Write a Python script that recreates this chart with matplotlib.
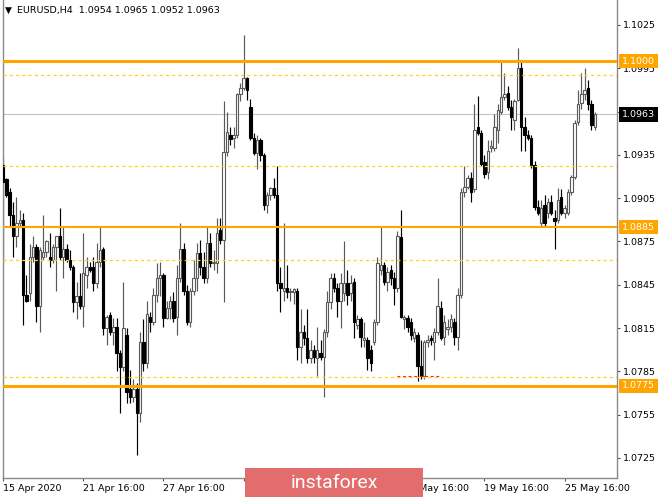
import numpy as np
import matplotlib
matplotlib.use("Agg")
import matplotlib.pyplot as plt
import matplotlib.transforms as mtransforms
from matplotlib.patches import Rectangle

# EURUSD H4 candles (15 Apr - 26 May 2020)
opens = [
    1.0928, 1.0918, 1.0909, 1.0893, 1.0879, 1.0888, 1.0890, 1.0838, 1.0839, 1.0864,
    1.0871, 1.0830, 1.0864, 1.0868, 1.0864, 1.0862, 1.0871, 1.0879, 1.0864, 1.0870,
    1.0862, 1.0857, 1.0833, 1.0837, 1.0830, 1.0852, 1.0857, 1.0857, 1.0846, 1.0861,
    1.0870, 1.0815, 1.0824, 1.0812, 1.0816, 1.0798, 1.0788, 1.0810, 1.0773, 1.0767,
    1.0773, 1.0756, 1.0805, 1.0791, 1.0823, 1.0819, 1.0838, 1.0850, 1.0852, 1.0822,
    1.0829, 1.0834, 1.0823, 1.0850, 1.0870, 1.0841, 1.0819, 1.0841, 1.0850, 1.0867,
    1.0857, 1.0850, 1.0874, 1.0860, 1.0860, 1.0883, 1.0876, 1.0937, 1.0949, 1.0947,
    1.0949, 1.0977, 1.0981, 1.0988, 1.0968, 1.0947, 1.0936, 1.0945, 1.0935, 1.0900,
    1.0907, 1.0912, 1.0907, 1.0846, 1.0841, 1.0843, 1.0840, 1.0840, 1.0841, 1.0802,
    1.0812, 1.0808, 1.0794, 1.0800, 1.0794, 1.0798, 1.0795, 1.0812, 1.0833, 1.0850,
    1.0843, 1.0834, 1.0839, 1.0846, 1.0839, 1.0847, 1.0817, 1.0821, 1.0807, 1.0807,
    1.0800, 1.0805, 1.0819, 1.0855, 1.0859, 1.0847, 1.0855, 1.0850, 1.0843, 1.0878,
    1.0821, 1.0822, 1.0819, 1.0808, 1.0810, 1.0789, 1.0782, 1.0805, 1.0808, 1.0805,
    1.0812, 1.0829, 1.0809, 1.0814, 1.0816, 1.0819, 1.0809, 1.0838, 1.0909, 1.0913,
    1.0919, 1.0911, 1.0954, 1.0950, 1.0930, 1.0923, 1.0940, 1.0940, 1.0952, 1.0965,
    1.0975, 1.0978, 1.0968, 1.0959, 1.0973, 1.0995, 1.0954, 1.0949, 1.0947, 1.0928,
    1.0899, 1.0888, 1.0900, 1.0895, 1.0902, 1.0891, 1.0890, 1.0906, 1.0895, 1.0895,
    1.0909, 1.0920, 1.0958, 1.0971, 1.0977, 1.0981, 1.0970, 1.0954,
]
highs = [
    1.0933, 1.0919, 1.0912, 1.0902, 1.0906, 1.0897, 1.0895, 1.0852, 1.0873, 1.0879,
    1.0873, 1.0871, 1.0893, 1.0876, 1.0881, 1.0873, 1.0879, 1.0898, 1.0885, 1.0873,
    1.0869, 1.0859, 1.0847, 1.0853, 1.0881, 1.0864, 1.0861, 1.0864, 1.0874, 1.0885,
    1.0871, 1.0824, 1.0826, 1.0822, 1.0822, 1.0800, 1.0847, 1.0815, 1.0786, 1.0780,
    1.0777, 1.0812, 1.0821, 1.0834, 1.0826, 1.0843, 1.0860, 1.0861, 1.0853, 1.0834,
    1.0837, 1.0840, 1.0859, 1.0888, 1.0874, 1.0845, 1.0843, 1.0862, 1.0874, 1.0876,
    1.0868, 1.0886, 1.0881, 1.0869, 1.0891, 1.0891, 1.0972, 1.0965, 1.0954, 1.0954,
    1.0978, 1.0985, 1.1018, 1.0989, 1.0974, 1.0950, 1.0949, 1.0947, 1.0936, 1.0909,
    1.0913, 1.0919, 1.0927, 1.0857, 1.0888, 1.0859, 1.0843, 1.0843, 1.0843, 1.0828,
    1.0817, 1.0828, 1.0807, 1.0803, 1.0816, 1.0807, 1.0814, 1.0841, 1.0853, 1.0853,
    1.0846, 1.0853, 1.0875, 1.0855, 1.0852, 1.0850, 1.0824, 1.0823, 1.0819, 1.0809,
    1.0803, 1.0821, 1.0864, 1.0885, 1.0861, 1.0857, 1.0859, 1.0854, 1.0882, 1.0897,
    1.0824, 1.0824, 1.0822, 1.0815, 1.0812, 1.0807, 1.0807, 1.0810, 1.0810, 1.0815,
    1.0850, 1.0834, 1.0824, 1.0821, 1.0825, 1.0822, 1.0843, 1.0912, 1.0927, 1.0921,
    1.0923, 1.0970, 1.0976, 1.0952, 1.0935, 1.0945, 1.0945, 1.0963, 1.0970, 1.0999,
    1.0992, 1.0983, 1.0973, 1.0974, 1.1009, 1.1001, 1.0961, 1.0952, 1.0949, 1.0931,
    1.0904, 1.0904, 1.0907, 1.0905, 1.0907, 1.0897, 1.0912, 1.0911, 1.0900, 1.0911,
    1.0921, 1.0959, 1.0980, 1.0992, 1.0995, 1.0987, 1.0973, 1.0965,
]
lows = [
    1.0861, 1.0906, 1.0886, 1.0864, 1.0871, 1.0886, 1.0817, 1.0833, 1.0834, 1.0861,
    1.0819, 1.0812, 1.0862, 1.0864, 1.0857, 1.0860, 1.0841, 1.0862, 1.0850, 1.0861,
    1.0855, 1.0826, 1.0821, 1.0828, 1.0816, 1.0843, 1.0854, 1.0841, 1.0843, 1.0857,
    1.0810, 1.0803, 1.0810, 1.0803, 1.0785, 1.0756, 1.0785, 1.0763, 1.0763, 1.0764,
    1.0727, 1.0750, 1.0785, 1.0787, 1.0812, 1.0817, 1.0833, 1.0837, 1.0816, 1.0821,
    1.0821, 1.0819, 1.0810, 1.0847, 1.0838, 1.0817, 1.0816, 1.0838, 1.0841, 1.0852,
    1.0846, 1.0846, 1.0857, 1.0855, 1.0853, 1.0873, 1.0833, 1.0934, 1.0942, 1.0940,
    1.0947, 1.0972, 1.0980, 1.0973, 1.0945, 1.0935, 1.0925, 1.0931, 1.0897, 1.0895,
    1.0904, 1.0905, 1.0841, 1.0826, 1.0834, 1.0836, 1.0834, 1.0832, 1.0793, 1.0791,
    1.0803, 1.0791, 1.0791, 1.0791, 1.0782, 1.0793, 1.0767, 1.0809, 1.0828, 1.0840,
    1.0823, 1.0815, 1.0834, 1.0831, 1.0834, 1.0808, 1.0814, 1.0802, 1.0802, 1.0786,
    1.0785, 1.0803, 1.0817, 1.0852, 1.0845, 1.0841, 1.0845, 1.0831, 1.0840, 1.0822,
    1.0814, 1.0812, 1.0807, 1.0805, 1.0778, 1.0780, 1.0780, 1.0802, 1.0803, 1.0793,
    1.0810, 1.0807, 1.0803, 1.0810, 1.0812, 1.0803, 1.0800, 1.0836, 1.0906, 1.0911,
    1.0902, 1.0909, 1.0949, 1.0927, 1.0919, 1.0918, 1.0937, 1.0938, 1.0943, 1.0963,
    1.0973, 1.0966, 1.0952, 1.0952, 1.0972, 1.0938, 1.0938, 1.0945, 1.0926, 1.0897,
    1.0893, 1.0886, 1.0886, 1.0891, 1.0893, 1.0870, 1.0888, 1.0893, 1.0891, 1.0893,
    1.0907, 1.0918, 1.0956, 1.0967, 1.0973, 1.0966, 1.0952, 1.0952,
]
closes = [
    1.0916, 1.0907, 1.0893, 1.0879, 1.0888, 1.0890, 1.0838, 1.0834, 1.0864, 1.0871,
    1.0830, 1.0869, 1.0868, 1.0875, 1.0862, 1.0871, 1.0879, 1.0864, 1.0870, 1.0862,
    1.0857, 1.0833, 1.0837, 1.0830, 1.0853, 1.0857, 1.0855, 1.0846, 1.0861, 1.0869,
    1.0815, 1.0823, 1.0812, 1.0816, 1.0798, 1.0788, 1.0815, 1.0771, 1.0767, 1.0773,
    1.0756, 1.0805, 1.0791, 1.0825, 1.0819, 1.0838, 1.0850, 1.0852, 1.0822, 1.0829,
    1.0834, 1.0822, 1.0850, 1.0870, 1.0841, 1.0819, 1.0841, 1.0850, 1.0867, 1.0857,
    1.0850, 1.0874, 1.0860, 1.0861, 1.0881, 1.0876, 1.0937, 1.0951, 1.0946, 1.0949,
    1.0977, 1.0981, 1.0988, 1.0980, 1.0947, 1.0936, 1.0945, 1.0935, 1.0900, 1.0907,
    1.0912, 1.0907, 1.0846, 1.0843, 1.0843, 1.0840, 1.0841, 1.0842, 1.0802, 1.0812,
    1.0808, 1.0794, 1.0800, 1.0795, 1.0800, 1.0795, 1.0812, 1.0833, 1.0850, 1.0843,
    1.0834, 1.0846, 1.0846, 1.0838, 1.0846, 1.0819, 1.0821, 1.0809, 1.0808, 1.0794,
    1.0791, 1.0819, 1.0860, 1.0859, 1.0847, 1.0854, 1.0850, 1.0843, 1.0879, 1.0823,
    1.0823, 1.0816, 1.0810, 1.0812, 1.0789, 1.0782, 1.0805, 1.0807, 1.0807, 1.0812,
    1.0830, 1.0808, 1.0819, 1.0816, 1.0821, 1.0809, 1.0838, 1.0909, 1.0913, 1.0919,
    1.0909, 1.0952, 1.0950, 1.0929, 1.0922, 1.0938, 1.0941, 1.0954, 1.0966, 1.0975,
    1.0977, 1.0968, 1.0961, 1.0972, 1.0995, 1.0954, 1.0949, 1.0947, 1.0928, 1.0899,
    1.0895, 1.0898, 1.0888, 1.0902, 1.0895, 1.0889, 1.0904, 1.0895, 1.0898, 1.0909,
    1.0920, 1.0957, 1.0970, 1.0977, 1.0980, 1.0970, 1.0956, 1.0963,
]

header = "EURUSD,H4  1.0954 1.0965 1.0952 1.0963"
date_ticks = [0, 24, 48, 72, 96, 120, 144, 168]
# the 7 May label sits fully under the watermark in the reference
date_labels = ["15 Apr 2020", "21 Apr 16:00", "27 Apr 16:00", "1 May 16:00",
               "", "13 May 16:00", "19 May 16:00", "25 May 16:00"]
price_ticks = [1.0725, 1.0755, 1.0785, 1.0815, 1.0845, 1.0875,
               1.0905, 1.0935, 1.0965, 1.0995, 1.1025]
levels = [1.1000, 1.0885, 1.0775]          # orange horizontal levels
dashed_levels = [1.0990, 1.0927, 1.0862, 1.0781]
last_price = 1.0963
red_level = 1.0782
red_from, red_to = 118, 131

o = np.array(opens)
h = np.array(highs)
l = np.array(lows)
c = np.array(closes)
x = np.arange(len(c))
up = c >= o

W, H = 665, 499
fig = plt.figure(figsize=(W / 100, H / 100), dpi=100)
fig.patch.set_facecolor("white")
ax = fig.add_axes([3 / W, 21 / H, 614 / W, 478 / H])

bull_col = "#5a5a5a"
ax.vlines(x[up], l[up], h[up], color=bull_col, lw=0.85, zorder=2)
ax.vlines(x[~up], l[~up], h[~up], color="black", lw=0.85, zorder=2)
body_low = np.minimum(o, c)
body_h = np.maximum(np.abs(c - o), 0.00003)
ax.bar(x[up], body_h[up], bottom=body_low[up], width=0.72,
       facecolor="white", edgecolor=bull_col, lw=0.8, zorder=3)
ax.bar(x[~up], body_h[~up], bottom=body_low[~up], width=0.72,
       facecolor="black", edgecolor="black", lw=0.8, zorder=3)

# levels
ax.axhline(last_price, color="#c4c4c4", lw=0.8, zorder=1)
for lev, lw in zip(levels, [2.2, 1.5, 2.2]):
    ax.axhline(lev, color="#FFA500", lw=lw, zorder=4)
for lev in dashed_levels:
    ax.axhline(lev, color="#FFD21F", lw=0.9, ls=(0, (2.5, 2.5)), zorder=4)
ax.hlines(red_level, red_from, red_to, colors="#FF2020", lw=0.8,
          linestyles=(0, (2.5, 2.5)), zorder=4)

ax.set_xlim(0, 614 / 3.343)
ax.set_ylim(1.07111, 1.10423)

for side in ["left", "right", "bottom"]:
    ax.spines[side].set_color("#8a8a8a")
    ax.spines[side].set_linewidth(1.0)
ax.spines["top"].set_visible(False)

ax.yaxis.tick_right()
ax.set_yticks(price_ticks)
# 1.0965 is hidden behind the last-price box in the reference
ax.set_yticklabels(["" if abs(p - 1.0965) < 1e-6 else f"{p:.4f}" for p in price_ticks])
ax.tick_params(axis="y", length=2.5, width=0.8, color="#555555", pad=1.5,
               labelsize=6.8, labelcolor="black")
ax.set_xticks(date_ticks)
ax.set_xticklabels(date_labels, ha="left")
ax.tick_params(axis="x", length=2.5, width=0.8, color="#555555", pad=2,
               labelsize=6.8, labelcolor="black")

# highlighted price labels on the right scale
trans = mtransforms.blended_transform_factory(ax.transAxes, ax.transData)
for lev in levels:
    ax.text(1.0 + 5 / 614, lev, f"{lev:.4f}", transform=trans, ha="left",
            va="center", fontsize=6.8, color="white", clip_on=False, zorder=6,
            bbox=dict(boxstyle="square,pad=0.28", fc="#FFA500", ec="none"))
ax.text(1.0 + 5 / 614, last_price, f"{last_price:.4f}", transform=trans,
        ha="left", va="center", fontsize=6.8, color="white", clip_on=False,
        zorder=6, bbox=dict(boxstyle="square,pad=0.28", fc="black", ec="none"))

# header
fig.text(5 / W, 1 - 10 / H, "\u25BC", fontsize=6.5, va="center", ha="left")
fig.text(17 / W, 1 - 10 / H, header, fontsize=6.8, va="center", ha="left")

# watermark
fig.patches.append(Rectangle((245 / W, 2 / H), 178 / W, 29 / H,
                             transform=fig.transFigure, facecolor="#E36C6C",
                             edgecolor="none", zorder=5))
fig.text(334 / W, 16 / H, "instaforex", fontsize=14, family="Roboto",
         color="white", ha="center", va="center", zorder=6)

fig.savefig("out.png", dpi=100)
